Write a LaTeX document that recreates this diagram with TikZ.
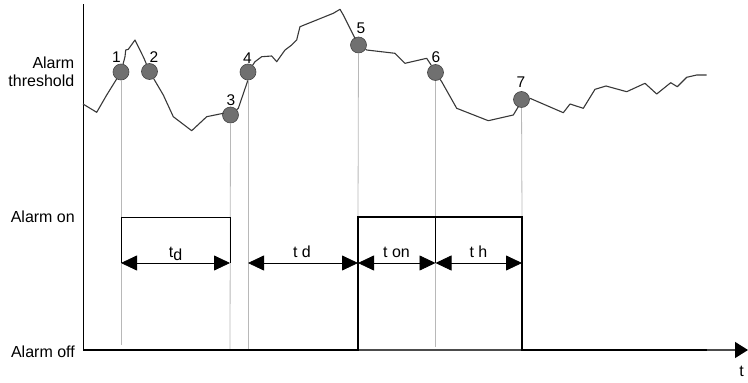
\documentclass[tikz,border=0pt]{standalone}
\usepackage{fontspec}
\setmainfont{Liberation Sans}
\usetikzlibrary{arrows.meta}
\begin{document}
\begin{tikzpicture}[x=1pt,y=-1pt,
  lbl/.style={font=\fontsize{16}{18}\selectfont, inner sep=0pt},
  num/.style={font=\fontsize{15.5}{17}\selectfont, inner sep=0pt},
  curve/.style={draw=black!78, line width=1.1pt, line join=round},
  marker/.style={circle, fill=black!56, draw=black!72, line width=0.6pt, minimum size=16pt, inner sep=0pt},
  guide/.style={draw=black!28, line width=0.8pt},
  signal/.style={draw=black, line width=2.6pt, line join=miter},
  bracketline/.style={draw=black, line width=0.8pt},
  dim/.style={draw=black, line width=0.8pt, {Triangle[length=16pt,width=15pt]}-{Triangle[length=16pt,width=15pt]}}
]
\useasboundingbox (0,0) rectangle (748,383);

% key coordinates
\coordinate (O) at (83,350);
\coordinate (Ytop) at (83,4);
\coordinate (Tend) at (748,350);
\coordinate (rise) at (358,350);
\coordinate (riseT) at (358,217);
\coordinate (fallT) at (522,217);
\coordinate (fall) at (522,350);
\coordinate (sigEnd) at (707,350);
\coordinate (b1) at (121,217);
\coordinate (b2) at (230,217);
\coordinate (a1) at (121,263);
\coordinate (a2) at (230,263);
\coordinate (a3) at (248,263);
\coordinate (a4) at (358,263);
\coordinate (a5) at (435.5,263);
\coordinate (a6) at (522,263);

% markers
\node[marker] (m1) at (121,72) {};
\node[marker] (m2) at (149.5,71.5) {};
\node[marker] (m3) at (230.5,115) {};
\node[marker] (m4) at (248,72) {};
\node[marker] (m5) at (358.5,45) {};
\node[marker] (m6) at (435.5,72.5) {};
\node[marker] (m7) at (521.5,99.5) {};

% guides
\draw[guide, shorten >=5pt] (m1) -- (m1 |- O);
\draw[guide] (m3) -- (a2 |- O);
\draw[guide] (m4) -- (m4 |- O);
\draw[guide] (m5) -- (riseT);
\draw[guide, shorten >=3pt] (m6) -- (m6 |- O);
\draw[guide] (m7) -- (fallT);

% axes
\draw[draw=black, line width=0.9pt] (O) -- (Ytop);
\draw[draw=black!70, line width=1.4pt, -{Triangle[length=13pt,width=16pt,color=black]}] (O) -- (Tend);

% signal
\draw[signal] (O) -- (rise) -- (riseT) -- (fallT) -- (fall) -- (sigEnd);

% bracket and inner line
\draw[bracketline] (a1) -- (b1) -- (b2) -- (a2);
\draw[bracketline] (a5 |- riseT) -- (a5);

% dimension arrows
\draw[dim] (a1) -- (a2);
\draw[dim] (a3) -- (a4);
\draw[dim] (a4) -- (a5);
\draw[dim] (a5) -- (a6);

\node[lbl, anchor=base] (ltd1) at (175.5,257.5) {t\raisebox{-2.5pt}{d}};
\node[lbl, anchor=base] (ltd2) at (302,257.5) {t d};
\node[lbl, anchor=base] (lton) at (396.5,257.5) {t on};
\node[lbl, anchor=base] (lth) at (478.5,257.5) {t h};

% measured curve
\draw[curve] (83,104) -- (96.7,112.3) -- (106.7,95) -- (m1)
  (m1) -- (125,56.7) -- (125.7,50) -- (128.3,49.3) -- (135,40) -- (144,58.3) -- (m2)
  (m2) -- (163.3,95) -- (173.3,116.7) -- (191.7,130.7) -- (206.7,116.7) -- (223.3,113.3) -- (m3)
  (m3) -- (238.3,108.3) -- (247.3,82) -- (m4)
  (m4) -- (255,61.7) -- (261.7,56.7) -- (271.7,56) -- (276.7,61.7) -- (285,50) -- (291.7,45)
    -- (296.7,40) -- (298.3,33.3) -- (300,26.7) -- (333.3,13.3) -- (340,9.3) -- (343.3,15)
    -- (355,38.3) -- (m5)
  (m5) -- (366.7,50) -- (395,53.3) -- (405,63.3) -- (426.7,58.3) -- (430,63.3) -- (m6)
  (m6) -- (441.7,81.7) -- (456.7,108.3) -- (488.3,120.7) -- (513.3,115) -- (518.3,106.7) -- (m7)
  (m7) -- (530,98.3) -- (563.3,112.7) -- (570,104) -- (583.3,108.3) -- (595,89.3) -- (606,86)
    -- (626.7,91.7) -- (645,83.3) -- (656.7,94) -- (670.7,82.7) -- (677.3,86.7) -- (686.7,77.3)
    -- (696.7,75) -- (706.7,75);

% marker numbers
\node[num, anchor=base] (n1) at (116.5,62) {1};
\node[num, anchor=base] (n2) at (154,62) {2};
\node[num, anchor=base] (n3) at (231,105.3) {3};
\node[num, anchor=base] (n4) at (247.5,63.3) {4};
\node[num, anchor=base] (n5) at (361,33.5) {5};
\node[num, anchor=base] (n6) at (436,62) {6};
\node[num, anchor=base] (n7) at (521,87.5) {7};

% axis labels
\node[lbl, anchor=base east] (lalarm) at (74.5,68.3) {Alarm};
\node[lbl, anchor=base east] (lthr) at (74.5,86) {threshold};
\node[lbl, anchor=base east] (lon) at (75,222.7) {Alarm on};
\node[lbl, anchor=base east] (loff) at (75,357.5) {Alarm off};
\node[lbl, anchor=base] (lt) at (741.5,376.5) {t};
\end{tikzpicture}
\end{document}
